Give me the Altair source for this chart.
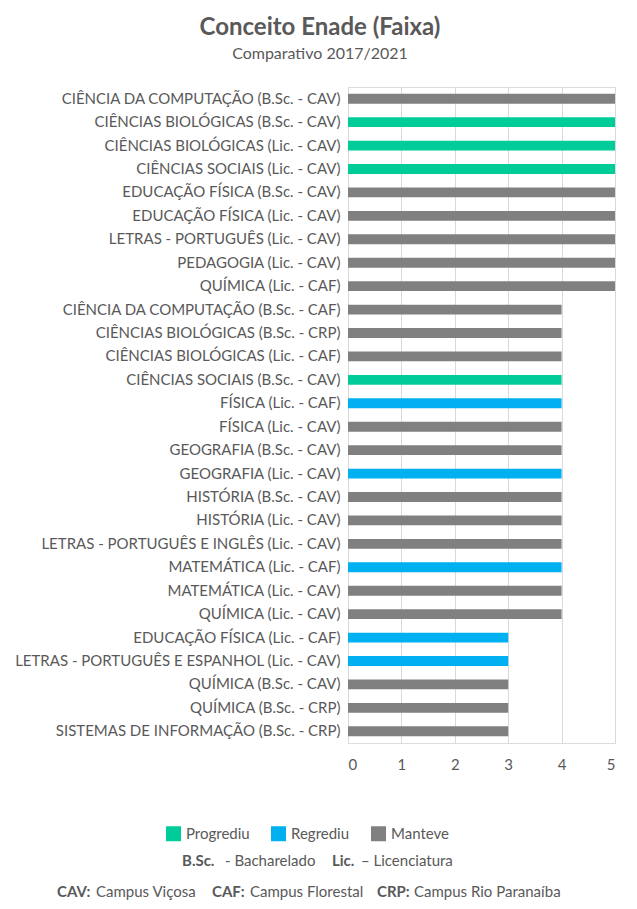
import altair as alt
import pandas as pd

cursos = [
    "CIÊNCIA DA COMPUTAÇÃO (B.Sc. - CAV)",
    "CIÊNCIAS BIOLÓGICAS (B.Sc. - CAV)",
    "CIÊNCIAS BIOLÓGICAS (Lic. - CAV)",
    "CIÊNCIAS SOCIAIS (Lic. - CAV)",
    "EDUCAÇÃO FÍSICA (B.Sc. - CAV)",
    "EDUCAÇÃO FÍSICA (Lic. - CAV)",
    "LETRAS - PORTUGUÊS (Lic. - CAV)",
    "PEDAGOGIA (Lic. - CAV)",
    "QUÍMICA (Lic. - CAF)",
    "CIÊNCIA DA COMPUTAÇÃO (B.Sc. - CAF)",
    "CIÊNCIAS BIOLÓGICAS (B.Sc. - CRP)",
    "CIÊNCIAS BIOLÓGICAS (Lic. - CAF)",
    "CIÊNCIAS SOCIAIS (B.Sc. - CAV)",
    "FÍSICA (Lic. - CAF)",
    "FÍSICA (Lic. - CAV)",
    "GEOGRAFIA (B.Sc. - CAV)",
    "GEOGRAFIA (Lic. - CAV)",
    "HISTÓRIA (B.Sc. - CAV)",
    "HISTÓRIA (Lic. - CAV)",
    "LETRAS - PORTUGUÊS E INGLÊS (Lic. - CAV)",
    "MATEMÁTICA (Lic. - CAF)",
    "MATEMÁTICA (Lic. - CAV)",
    "QUÍMICA (Lic. - CAV)",
    "EDUCAÇÃO FÍSICA (Lic. - CAF)",
    "LETRAS - PORTUGUÊS E ESPANHOL (Lic. - CAV)",
    "QUÍMICA (B.Sc. - CAV)",
    "QUÍMICA (B.Sc. - CRP)",
    "SISTEMAS DE INFORMAÇÃO (B.Sc. - CRP)",
]
conceitos = [5, 5, 5, 5, 5, 5, 5, 5, 5,
             4, 4, 4, 4, 4, 4, 4, 4, 4, 4, 4, 4, 4, 4,
             3, 3, 3, 3, 3]
situacao = [
    "Manteve", "Progrediu", "Progrediu", "Progrediu", "Manteve", "Manteve",
    "Manteve", "Manteve", "Manteve",
    "Manteve", "Manteve", "Manteve", "Progrediu", "Regrediu", "Manteve",
    "Manteve", "Regrediu", "Manteve", "Manteve", "Manteve", "Regrediu",
    "Manteve", "Manteve",
    "Regrediu", "Regrediu", "Manteve", "Manteve", "Manteve",
]
categorias = ["Progrediu", "Regrediu", "Manteve"]
cores = ["#00CC99", "#00B0F0", "#808080"]
ticks_x = [0, 1, 2, 3, 4, 5]

titulo = "Conceito Enade (Faixa)"
subtitulo = "Comparativo 2017/2021"
notas = [
    # (text, bold, x, y) positions relative to plot origin
    ("B.Sc.", True, -166, 774),
    ("- Bacharelado", False, -123, 774),
    ("Lic.", True, -16, 774),
    ("– Licenciatura", False, 13, 774),
    ("CAV:", True, -291, 805),
    ("Campus Viçosa", False, -252, 805),
    ("CAF:", True, -136, 805),
    ("Campus Florestal", False, -98, 805),
    ("CRP:", True, 29, 805),
    ("Campus Rio Paranaíba", False, 66, 805),
]

df = pd.DataFrame({"curso": cursos, "conceito": conceitos, "situacao": situacao})

FONT = "Lato"
TXT = "#595959"
W, H = 267, 656

bars = alt.Chart(df).mark_bar().encode(
    x=alt.X("conceito:Q",
            scale=alt.Scale(domain=[0, 5], nice=False),
            axis=alt.Axis(values=ticks_x, title=None, grid=True, gridColor="#d9d9d9",
                          domain=False, ticks=False, labelPadding=14,
                          labelFont=FONT, labelFontSize=15, labelColor=TXT)),
    y=alt.Y("curso:N", sort=cursos,
            scale=alt.Scale(paddingInner=0.58, paddingOuter=0.29),
            axis=alt.Axis(title=None, ticks=False, domain=True, domainColor="#d9d9d9",
                          labelPadding=8, labelLimit=400,
                          labelFont=FONT, labelFontSize=15, labelColor=TXT)),
    color=alt.Color("situacao:N",
                    scale=alt.Scale(domain=categorias, range=cores),
                    legend=alt.Legend(title=None, orient="none", direction="horizontal",
                                      legendX=-182, legendY=739,
                                      symbolType="square", symbolSize=225,
                                      symbolStrokeWidth=0, columnPadding=21,
                                      labelOffset=5, labelFont=FONT, labelFontSize=15,
                                      labelColor=TXT)),
)

one = pd.DataFrame({"a": [0]})
layers = [bars]
layers.append(alt.Chart(one).mark_text(text=titulo, font=FONT, fontSize=24, fontWeight="bold",
                                       color=TXT, align="center", baseline="middle").encode(
    x=alt.value(-28), y=alt.value(-59)))
layers.append(alt.Chart(one).mark_text(text=subtitulo, font=FONT, fontSize=16,
                                       color=TXT, align="center", baseline="middle").encode(
    x=alt.value(-28), y=alt.value(-33)))
for t, b, xx, yy in notas:
    layers.append(alt.Chart(one).mark_text(text=t, font=FONT, fontSize=15,
                                           fontWeight="bold" if b else "normal",
                                           color=TXT, align="left", baseline="middle").encode(
        x=alt.value(xx), y=alt.value(yy)))

chart = alt.layer(*layers).properties(
    width=W, height=H,
    autosize=alt.AutoSizeParams(type="none"),
    padding={"left": 340, "top": 79, "right": 14, "bottom": 158},
).configure_view(stroke=None).configure(background="white")

chart.save("out.html", embed_options={"renderer": "svg", "actions": False})
